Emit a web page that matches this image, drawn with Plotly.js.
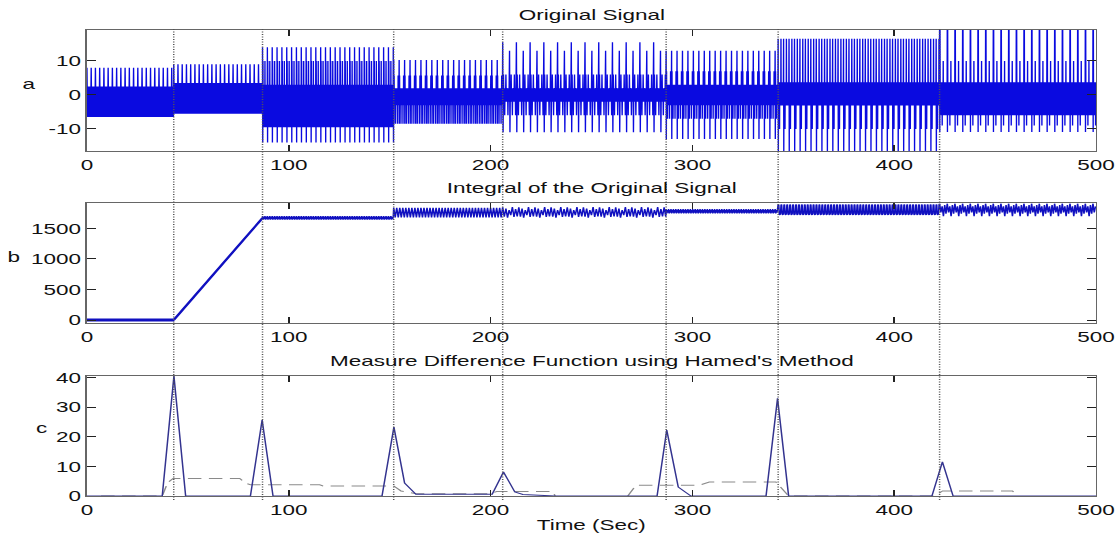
<!DOCTYPE html>
<html><head><meta charset="utf-8">
<script src="https://cdn.plot.ly/plotly-3.0.1.min.js"></script>
<style>
html,body{margin:0;padding:0;overflow:hidden;background:#fff}
#plot{width:747px;height:535px;transform:scale(1.4993,1);transform-origin:0 0}
</style>
</head><body><div id="plot"></div>
<script>
// ---- data ----
const changePoints = [43, 87, 152, 206, 287, 342.5, 422.5];
const xTicks = [0, 100, 200, 300, 400, 500];

// panel a: one repeated cycle per segment
const aStart  = [0, 43, 87, 152, 206, 287, 342.5, 422.5];
const aEnd    = [43, 87, 152, 206, 287, 342.5, 422.5, 500];
const aPeriod = [2.1, 2.1, 2.4, 2.7, 6.8, 2.7, 2.7, 3.8];
const aCycle1 = [8, 2.5, -6.5, 2.5, -6.5, 2.5, -6.5, 2.5, -6.5, 2.5, -6.5, 2.5, -6.5, 2.5, -6.5, 2.5, -6.5, 2.5, -6.5, 2.5];
const aCycle2 = [9, 3.5, -5.5, 3.5, -5.5, 3.5, -5.5, 3.5, -5.5, 3.5, -5.5, 3.5, -5.5, 3.5, -5.5, 3.5, -5.5, 3.5, -5.5, 3.5];
const aCycle3 = [14, -14, 10, -9.5, 3, -9.5, 3, -9.5, 3, -9.5, 3, -9.5, 10, -9.5, 3, -9.5, 3, -9.5, 3, -9.5, 3, -9.5, 3, -9.5];
const aCycle4 = [10.3, -8.5, 5.7, -3, 2, -3, 2, -3, 2, -8.5, 2, -3, 2, -3, 2, -3, 2, -3, 2, -8.5, 2, -3, 5.7, -3, 2, -3, 2];
const aCycle5 = [15.5, -11, 6, -2, 2, -6, 2, -2, 6, -2, 2, -2, 2, -6, 2, -2, 2,
                 13, -11, 2, -2, 6, -2, 2, -6, 2, -2, 2, -2, 6, -2, 2, -6, 2];
const aCycle6 = [13, -13, 7, -3, 3, -3, 3, -7, 3, -3, 3, -3, 3, -3, 3, -3, 3, -7, 3, -3, 3, -3, 7, -3, 3, -3, 3];
const aCycle7 = [16.5, -16.5, 3.7, -3.1, 3.7, -3.1, 3.7, -10, 3.7, -3.1, 3.7, -3.1, 3.7, -3.1, 16.5, -3.1, 3.7, -3.1, 3.7, -3.1, 3.7, -3.1, 3.7, -3.1, 3.7, -3.1, 3.7];
const aCycle8 = [19.4, -10.9, 19.4, -6, 3.7, -6, 3.7, -6, 3.7, -6, 3.7, -6, 3.7, -9, 3.7, -6, 3.7, -6, 10, -6, 3.7, -6, 3.7, -6, 3.7, -6, 3.7, -6, 3.7, -6, 3.7, -6, 3.7, -6, 3.7, -6, 3.7, -6];

// panel b: integral
const bStart  = [0, 87, 152, 206, 287, 342.5, 422.5];
const bEnd    = [43, 152, 206, 287, 342.5, 422.5, 500];
const bPeriod = [0.5, 1.2, 1.5, 8, 1.2, 1.45, 3.8];
const bCycle1 = [25, -25, 15, -20];
const bCycle2 = [1700, 1640, 1690, 1650];
const bCycle3 = [1835, 1680];
const bCycle4 = [1845, 1690, 1825, 1675, 1800, 1715, 1850, 1685, 1815, 1695];
const bCycle5 = [1815, 1745, 1800, 1755];
const bCycle6 = [1890, 1885, 1730, 1720, 1735];
const bCycle7 = [1905, 1760, 1860, 1700, 1880, 1740];
const rampT = [43, 87];
const rampV = [0, 1670];

// panel c: measure difference function
const mdfT = [0, 37.3, 43.1, 48.9, 81, 86.8, 92.2, 146.2, 152.1, 157.4, 163, 200.8, 206.4, 212, 216, 232, 282.5, 287.3, 293, 299.3, 336.5, 342.2, 347.7, 418.7, 423.9, 429.2, 500];
const mdfV = [0, 0, 40.4, 0, 0, 25.6, 0, 0, 23.2, 4.4, 0.6, 0.6, 8.1, 1.4, 0.5, 0, 0, 22.2, 3, 0, 0, 32.9, 0, 0, 11.5, 0, 0];
const dashT = [7, 37.3, 40, 42.7, 75.7, 79, 81, 115.3, 117, 152, 155.6, 163, 200, 203, 230.9, 232, null, 268, 272, 303.4, 308.4, 341.4, 347.7, 419.8, 424, 458.6, 461];
const dashV = [0, 0, 4.5, 5.9, 5.9, 4.2, 3.8, 3.8, 3.4, 3.4, 1.7, 0.8, 0.8, 1.5, 1.5, 0, null, 0, 3.6, 3.6, 4.7, 4.7, 0, 0, 1.7, 1.7, 0];

// ---- build traces ----
function tile(start, end, period, cycle, xs, ys){
  const n = cycle.length, dt = period / n;
  let k = 0;
  for (let t = start; t < end - 1e-9; t += dt, k++) { xs.push(t); ys.push(cycle[k % n]); }
}
const aCycles = [aCycle1, aCycle2, aCycle3, aCycle4, aCycle5, aCycle6, aCycle7, aCycle8];
const ax_ = [], ay_ = [];
aStart.forEach((s, i) => tile(s, aEnd[i], aPeriod[i], aCycles[i], ax_, ay_));

const bCycles = [bCycle1, bCycle2, bCycle3, bCycle4, bCycle5, bCycle6, bCycle7];
const bx = [], by = [];
bStart.forEach((s, i) => {
  if (i === 1) { rampT.forEach((t, j) => { bx.push(t); by.push(rampV[j]); }); }
  tile(s, bEnd[i], bPeriod[i], bCycles[i], bx, by);
});

const FONT = 'Liberation Sans, Arial, Helvetica, sans-serif';
const data = [
  {x: ax_, y: ay_, type: 'scatter', mode: 'lines', xaxis: 'x', yaxis: 'y',
   line: {color: '#0a0ae0', width: 0.9, simplify: false}, hoverinfo: 'skip'},
  {x: bx, y: by, type: 'scatter', mode: 'lines', xaxis: 'x2', yaxis: 'y2',
   line: {color: '#1010c0', width: 1, simplify: false}, hoverinfo: 'skip'},
  {x: rampT, y: rampV, type: 'scatter', mode: 'lines', xaxis: 'x2', yaxis: 'y2',
   line: {color: '#1010c0', width: 1.8}, hoverinfo: 'skip'},
  {x: dashT, y: dashV, type: 'scatter', mode: 'lines', xaxis: 'x3', yaxis: 'y3', connectgaps: false,
   line: {color: '#8a8a8a', width: 1, dash: '9px,5px'}, hoverinfo: 'skip'},
  {x: mdfT, y: mdfV, type: 'scatter', mode: 'lines', xaxis: 'x3', yaxis: 'y3',
   line: {color: '#33338f', width: 1}, hoverinfo: 'skip'}
];

function xa(anchor){
  return {domain: [0, 1], range: [0, 500], tickvals: xTicks, ticktext: xTicks.map(String), anchor: anchor,
    ticks: 'inside', ticklen: 6, tickcolor: '#222', showline: true, mirror: 'ticks', linecolor: '#666', linewidth: 1,
    showgrid: false, zeroline: false, tickfont: {family: FONT, size: 15, color: '#111'}};
}
function ya(domain, range, vals, anchor){
  return {domain: domain, range: range, tickvals: vals, ticktext: vals.map(String), anchor: anchor,
    ticks: 'inside', ticklen: 6, tickcolor: '#222', showline: true, mirror: 'ticks', linecolor: '#666', linewidth: 1,
    showgrid: false, zeroline: false, tickfont: {family: FONT, size: 15, color: '#111'}};
}

const shapes = changePoints.map(cp => ({type: 'line', xref: 'x', yref: 'paper', x0: cp, x1: cp, y0: -0.0086, y1: 1.0043,
  layer: 'above', line: {color: '#555', width: 1, dash: '1px,1.5px'}}));

function note(text, x, y){
  return {text: text, xref: 'paper', yref: 'paper', x: x, y: y, xanchor: 'center', yanchor: 'middle',
    showarrow: false, font: {family: FONT, size: 15, color: '#111'}};
}
const annotations = [
  note('Original Signal', 0.5, 1.0343),
  note('Integral of the Original Signal', 0.5, 0.661),
  note("Measure Difference Function using Hamed's Method", 0.5, 0.2918),
  note('Time (Sec)', 0.5, -0.0601),
  note('a', -0.0565, 0.886),
  note('b', -0.0724, 0.5129),
  note('c', -0.0446, 0.146)
];

const layout = {
  width: 747, height: 535, autosize: false,
  margin: {l: 58, r: 16, t: 30, b: 39},
  paper_bgcolor: '#fff', plot_bgcolor: '#fff', showlegend: false,
  font: {family: FONT, size: 15, color: '#111'},
  xaxis: xa('y'), xaxis2: xa('y2'), xaxis3: xa('y3'),
  yaxis: ya([0.7403, 1], [-16.5, 19.1], [-10, 0, 10], 'x'),
  yaxis2: ya([0.3706, 0.6281], [-54, 1910], [0, 500, 1000, 1500], 'x2'),
  yaxis3: ya([0, 0.2575], [0, 40.45], [0, 10, 20, 30, 40], 'x3'),
  shapes: shapes, annotations: annotations
};
Plotly.newPlot('plot', data, layout, {staticPlot: true, displayModeBar: false});
</script></body></html>
